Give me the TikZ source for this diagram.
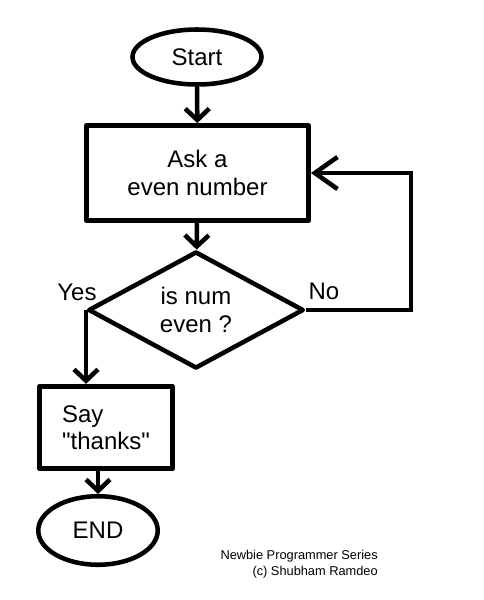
\documentclass[tikz,border=0pt]{standalone}
\usepackage{fontspec}
\setmainfont{Liberation Sans}
\usepackage{tikz}
\usetikzlibrary{shapes.geometric,arrows.meta,positioning,calc}

\begin{document}
\begin{tikzpicture}[
  x=0.75pt, y=-0.75pt,
  font=\fontsize{18}{20.5}\selectfont,
  term/.style={
    ellipse, draw, line width=3.4pt, inner sep=0pt,
    minimum width=#1
  },
  proc/.style={
    rectangle, draw, line width=3.6pt, inner sep=0pt,
    line join=round
  },
  decide/.style={
    diamond, draw, line width=3.4pt, inner sep=0pt,
    minimum width=161.6pt, minimum height=82.9pt,
    line join=round, align=center
  },
  arr/.style={-{Straight Barb[length=8.5pt,width=18pt]}, line width=3.4pt},
  back/.style={-{Straight Barb[length=17pt,width=24pt]}, line width=3.4pt},
  lbl/.style={inner sep=0pt}
]
\useasboundingbox (0,0) rectangle (483,600);

\node[term=96.75pt, minimum height=41.25pt] (start) at (197,57) {Start};
\node[proc, minimum width=166.5pt, minimum height=71.25pt, align=center] (ask) at (197.5,173) {Ask a\\even number};
\node[decide] (dec) at (196,310) {is num\\even ?};
\node[proc, minimum width=99.4pt, minimum height=61.9pt, align=left] (say) at (106,427.5) {Say\\\textquotedbl thanks\textquotedbl};
\node[term=89.6pt, minimum height=51.4pt] (end) at (98,530.5) {END};

\node[lbl] (yes) at (77,292) {Yes};
\node[lbl] (no) at (324,291) {No};

\node[lbl, anchor=east, align=right, font=\fontsize{9.6}{12}\selectfont] (sign) at (378,564)
  {Newbie Programmer Series\\(c) Shubham Ramdeo};

\draw[arr] (start) -- (ask);
\draw[arr] (ask) -- (dec);
\draw[back] (dec.east) -- ++(105,0) |- (ask.east);
\draw[arr] (dec.west) -- (dec.west |- say.north);
\draw[arr] (end.north |- say.south) -- (end.north);
\end{tikzpicture}
\end{document}
